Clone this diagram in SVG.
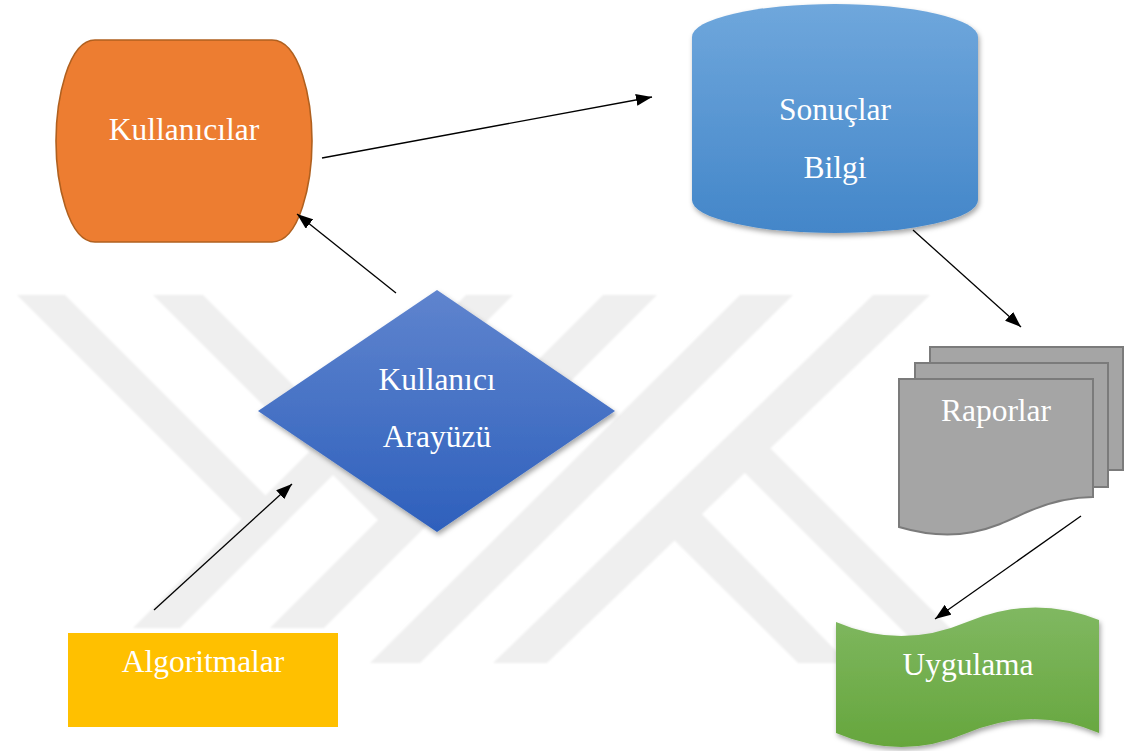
<svg xmlns="http://www.w3.org/2000/svg" width="1124" height="751" viewBox="0 0 1124 751">
  <defs>
    <style>
      .lbl { font-family: "Liberation Serif", "Times New Roman", serif; font-size: 31.5px; fill: #ffffff; text-anchor: middle; }
      .wm { fill: #efefef; }
      .conn { stroke: #000000; stroke-width: 1.3; fill: none; marker-end: url(#arrow); }
    </style>
    <marker id="arrow" markerUnits="userSpaceOnUse" markerWidth="16" markerHeight="12" refX="16" refY="6" orient="auto">
      <path d="M0,0 L16,6 L0,12 Z" fill="#000000"/>
    </marker>
    <linearGradient id="gBlue" x1="0" y1="0" x2="0" y2="1">
      <stop offset="0" stop-color="#6FA7DC"/>
      <stop offset="1" stop-color="#4386C9"/>
    </linearGradient>
    <linearGradient id="gDiamond" x1="0" y1="0" x2="0" y2="1">
      <stop offset="0" stop-color="#5F84CE"/>
      <stop offset="1" stop-color="#2E60BC"/>
    </linearGradient>
    <linearGradient id="gGreen" x1="0" y1="0" x2="0" y2="1">
      <stop offset="0" stop-color="#80B861"/>
      <stop offset="1" stop-color="#66A63D"/>
    </linearGradient>
    <filter id="shadow" x="-10%" y="-10%" width="125%" height="130%">
      <feDropShadow dx="1.5" dy="3" stdDeviation="2.5" flood-color="#000000" flood-opacity="0.35"/>
    </filter>
    <filter id="soft" x="-5%" y="-5%" width="110%" height="110%">
      <feGaussianBlur stdDeviation="0.8"/>
    </filter>
  </defs>

  <rect width="1124" height="751" fill="#ffffff"/>

  <!-- background emblem bands -->
  <g id="emblem" filter="url(#soft)">
    <polygon class="wm" points="17,295 65,295 289,519 265,543"/>
    <polygon class="wm" points="466,295 513,295 180,628 133,628"/>
    <polygon class="wm" points="153,295 203,295 430,522 405,547"/>
    <polygon class="wm" points="603,295 657,295 324,628 270,628"/>
    <polygon class="wm" points="740,295 793,295 420,663 370,663"/>
    <polygon class="wm" points="873,295 930,295 547,663 493,663"/>
    <polygon class="wm" points="662,528 689,501 848,663 798,663"/>
    <polygon class="wm" points="733,461 758,436 985,663 935,663"/>
  </g>

  <g id="kullanicilar">
    <path d="M95,40 H272 C300,40 312,100 312,141 C312,182 300,242 272,242 H95 C68,242 56,182 56,141 C56,100 68,40 95,40 Z" fill="#ED7D31" stroke="#B0601F" stroke-width="1.6"/>
    <text class="lbl" x="184" y="140">Kullanıcılar</text>
  </g>

  <g id="sonuclar">
    <path d="M692,37 A143,33 0 0 1 978,37 V200 A143,33 0 0 1 692,200 Z" fill="url(#gBlue)" filter="url(#shadow)"/>
    <text class="lbl" x="835" y="120">Sonuçlar</text>
    <text class="lbl" x="835" y="178">Bilgi</text>
  </g>

  <g id="arayuz">
    <polygon points="437,290 615,411 437,532 258,411" fill="url(#gDiamond)" filter="url(#shadow)"/>
    <text class="lbl" x="437" y="390">Kullanıcı</text>
    <text class="lbl" x="437" y="447">Arayüzü</text>
  </g>

  <g id="raporlar">
    <rect x="930" y="347" width="193" height="123" fill="#A5A5A5" stroke="#7B7B7B" stroke-width="2"/>
    <rect x="915" y="363" width="193" height="124" fill="#A5A5A5" stroke="#7B7B7B" stroke-width="2"/>
    <path d="M899,379 H1093 V497 C1070,497 1050,502 1027,512 C995,527 960,545 899,527 Z" fill="#A5A5A5" stroke="#7B7B7B" stroke-width="2"/>
    <text class="lbl" x="996" y="421">Raporlar</text>
  </g>

  <g id="uygulama">
    <path d="M836,622 Q901,650 967,622 Q1033,594 1099,620 V733 Q1033,705 967,733 Q901,761 836,733 Z" fill="url(#gGreen)" filter="url(#shadow)"/>
    <text class="lbl" x="968" y="675">Uygulama</text>
  </g>

  <g id="algoritmalar">
    <rect x="68" y="633" width="270" height="94" fill="#FFC000"/>
    <text class="lbl" x="203" y="672">Algoritmalar</text>
  </g>

  <g id="connectors">
    <line class="conn" x1="322" y1="158" x2="652" y2="97"/>
    <line class="conn" x1="396" y1="293" x2="297" y2="214"/>
    <line class="conn" x1="154" y1="610" x2="292" y2="484"/>
    <line class="conn" x1="913" y1="230" x2="1021" y2="327"/>
    <line class="conn" x1="1081" y1="516" x2="935" y2="619"/>
  </g>
</svg>
